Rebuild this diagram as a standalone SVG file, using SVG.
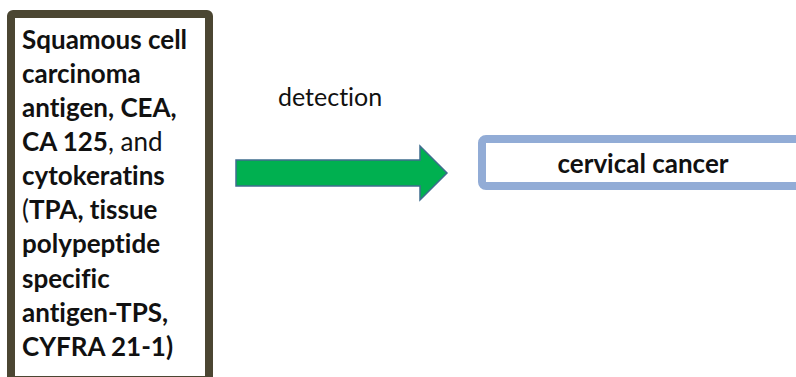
<svg xmlns="http://www.w3.org/2000/svg" width="796" height="377" viewBox="0 0 796 377">
  <style>
    .lbl { font-family: "Lato", "Open Sans", "Liberation Sans", sans-serif; fill: #111; font-variant-ligatures: none; }
    .b { font-weight: 700; }
    .n { font-weight: 400; }
  </style>
  <rect width="796" height="377" fill="#fff"/>

  <!-- marker list box -->
  <g id="markers">
    <rect x="11" y="14" width="198" height="366" rx="2" fill="#fff" stroke="#4b4632" stroke-width="8"/>
    <text class="lbl b" font-size="26" x="22">
      <tspan x="22" y="49">Squamous cell</tspan>
      <tspan x="22" y="83">carcinoma</tspan>
      <tspan x="22" y="117">antigen, CEA,</tspan>
      <tspan x="22" y="151">CA 125<tspan class="n">, and</tspan></tspan>
      <tspan x="22" y="185">cytokeratins</tspan>
      <tspan x="22" y="219"><tspan class="n">(</tspan>TPA, tissue</tspan>
      <tspan x="22" y="253">polypeptide</tspan>
      <tspan x="22" y="288">specific</tspan>
      <tspan x="22" y="322">antigen-TPS,</tspan>
      <tspan x="22" y="356">CYFRA 21-1)</tspan>
    </text>
  </g>

  <!-- connector -->
  <g id="connectors">
    <path d="M236,160 H420 V146 L447,173 L420,200 V186 H236 Z" fill="#00b050" stroke="#3f6d8f" stroke-width="1.5" stroke-linejoin="miter"/>
    <text class="lbl n" font-size="25" x="278" y="106" fill="#222">detection</text>
  </g>

  <!-- outcome box -->
  <g id="outcome">
    <rect x="482" y="139" width="330" height="47" rx="4" fill="#fff" stroke="#92acd6" stroke-width="8"/>
    <text class="lbl b" font-size="26" x="643" y="173" text-anchor="middle">cervical cancer</text>
  </g>
</svg>
